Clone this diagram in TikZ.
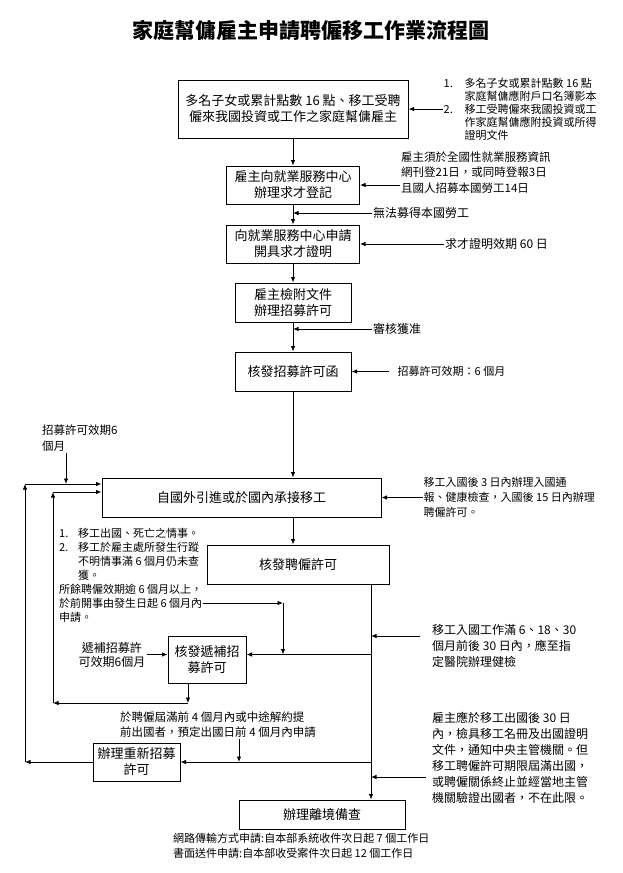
\documentclass[tikz,border=0pt]{standalone}
\usepackage{fontspec}
\setmainfont{Noto Sans CJK TC}
\usetikzlibrary{arrows.meta,positioning}

\newcommand{\listno}[2][21pt]{\makebox[#1][l]{#2}}

\begin{document}
\begin{tikzpicture}[
		x=1pt, y=1pt,
		node distance=27pt,
		block/.style={draw, line width=1pt, fill=white, align=center, inner sep=1pt, font=\fontsize{13}{16}\selectfont},
		note/.style={align=left, inner sep=1pt, font=\fontsize{11}{13}\selectfont},
		link/.style={line width=0.9pt, -{Latex[length=5.5pt, width=4.5pt]}},
	]
		\useasboundingbox (0,0) rectangle (622,-873);
		\node [font=\fontsize{21}{24}\selectfont\bfseries] (title) at (311,-30) {家庭幫傭雇主申請聘僱移工作業流程圖};

		\node [block, minimum width=230pt, minimum height=58pt] (owner) at (293,-109) {多名子女或累計點數 16 點、移工受聘\\僱來我國投資或工作之家庭幫傭雇主};
		\node [block, minimum width=133pt, minimum height=38pt, below=27pt of owner] (register) {雇主向就業服務中心\\辦理求才登記};
		\node [block, minimum width=133pt, minimum height=38pt, below=20pt of register] (proof) {向就業服務中心申請\\開具求才證明};
		\node [block, minimum width=116pt, minimum height=39pt, below=19pt of proof] (apply) {雇主檢附文件\\辦理招募許可};
		\node [block, minimum width=116pt, minimum height=39pt, below=29pt of apply] (letter) {核發招募許可函};
		\node [block, minimum width=279pt, minimum height=39pt, below=86pt of letter, xshift=-51.5pt] (bring) {自國外引進或於國內承接移工};
		\node [block, minimum width=182pt, minimum height=39pt, below=27pt of bring, xshift=56.5pt] (hire) {核發聘僱許可};
		\node [block, minimum width=78pt, minimum height=47pt] (refill) at (207,-659.5) {核發遞補招\\募許可};
		\node [block, minimum width=87pt, minimum height=38pt] (again) at (136.5,-762) {辦理重新招募\\許可};
		\node [block, minimum width=166pt, minimum height=29pt] (leave) at (322,-814.5) {辦理離境備查};

		% side notes
		\node [note, right=34pt of owner] (docs) {\listno{1.}多名子女或累計點數 16 點\\\listno{}家庭幫傭應附戶口名簿影本\\\listno{2.}移工受聘僱來我國投資或工\\\listno{}作家庭幫傭應附投資或所得\\\listno{}證明文件};
		\node [note, right=40pt of register, yshift=12.5pt, font=\fontsize{11.5}{15.5}\selectfont] (posting) {雇主須於全國性就業服務資訊\\網刊登21日，或同時登報3日\\且國人招募本國勞工14日};
		\node [note, anchor=west, font=\fontsize{12}{14}\selectfont] (nolocal) at (372,-213) {無法募得本國勞工};
		\node [note, right=84pt of proof, font=\fontsize{12}{14}\selectfont] (certterm) {求才證明效期 60 日};
		\node [note, anchor=west, font=\fontsize{12}{14}\selectfont] (approved) at (372,-329) {審核獲准};
		\node [note, right=45pt of letter] (permitterm) {招募許可效期：6 個月};
		\node [note, right=41pt of bring, font=\fontsize{11}{15}\selectfont] (arrival) {移工入國後 3 日內辦理入國通\\報、健康檢查，入國後 15 日內辦理\\聘僱許可。};
		\node [note, anchor=west, font=\fontsize{11.5}{16}\selectfont] (lapse) at (41,-438) {招募許可效期6\\個月};
		\node [note, anchor=west, font=\fontsize{11}{14}\selectfont] (dues) at (58,-575) {\listno[19pt]{1.}移工出國、死亡之情事。\\\listno[19pt]{2.}移工於雇主處所發生行蹤\\\listno[19pt]{}不明情事滿 6 個月仍未查\\\listno[19pt]{}獲。\\所餘聘僱效期逾 6 個月以上，\\於前開事由發生日起 6 個月內\\申請。};
		\node [note, left=21pt of refill, yshift=5pt, align=center, font=\fontsize{12}{14}\selectfont] (refillterm) {遞補招募許\\可效期6個月};
		\node [note, font=\fontsize{11.5}{15}\selectfont] (early) at (218,-725) {於聘僱屆滿前 4 個月內或中途解約提\\前出國者，預定出國日前 4 個月內申請};
		\node [note, anchor=west, font=\fontsize{12}{16}\selectfont] (checkup) at (431,-646) {移工入國工作滿 6、18、30\\個月前後 30 日內，應至指\\定醫院辦理健檢};
		\node [note, anchor=west, font=\fontsize{12}{16}\selectfont] (notify) at (431,-758) {雇主應於移工出國後 30 日\\內，檢具移工名冊及出國證明\\文件，通知中央主管機關。但\\移工聘僱許可期限屆滿出國，\\或聘僱關係終止並經當地主管\\機關驗證出國者，不在此限。};
		\node [note, anchor=west, font=\fontsize{11}{15}\selectfont] (timing) at (172,-845.5) {網路傳輸方式申請:自本部系統收件次日起 7 個工作日\\書面送件申請:自本部收受案件次日起 12 個工作日};

		\coordinate (outer) at (25,-484);
		\coordinate (inner) at (53,-492);
		\coordinate (tap) at (66,-484);
		\coordinate (drop) at (188,-703);
		\coordinate (rail) at (371,0);
		\coordinate (elbow) at (283,-603);
		\coordinate (tick) at (239,-762);
		\coordinate (checkup tail) at (420,-636);
		\coordinate (notify tail) at (426,-777);

		% main flow
		\draw[link] (owner) -- (register);
		\draw[link] (register) -- (proof);
		\draw[link] (proof) -- (apply);
		\draw[link] (apply) -- (letter);
		\draw[link] (letter.south) -- (letter.south |- bring.north);
		\draw[link] (letter.south |- bring.south) -- (letter.south |- hire.north);
		\draw[link] (hire.south -| rail) -- (leave.north -| rail);

		\draw[link] (docs.west) -- (owner.east);
		\draw[link] (register.east -| posting.west) -- (register.east);
		\draw[link] (nolocal.west) -- (nolocal.west -| register.south);
		\draw[link] (certterm.west) -- (proof.east);
		\draw[link] (approved.west) -- (approved.west -| apply.south);
		\draw[link] ([xshift=-8pt]permitterm.west) -- (letter.east);
		\draw[link] (arrival.west) -- (bring.east);

		% loops back to the import box
		\draw[link] (again.west) -- (again.west -| outer);
		\draw[link] (again.west -| outer) -- (outer);
		\draw[link] (outer) -- (outer -| bring.west);
		\draw[link] (lapse.south -| tap) -- (tap);
		\draw[link] (refill.south -| drop) -- (drop);
		\draw[link] (drop) -- (drop -| inner);
		\draw[link] (drop -| inner) -- (inner);
		\draw[link] (inner) -- (inner -| bring.west);

		% branches off the rail
		\draw[link] (refillterm.east -| rail) -- (refillterm.east -| refill.east);
		\draw[link] (refillterm.east) -- (refillterm.east -| refill.west);
		\draw[link] (elbow -| dues.east) -- (elbow);
		\draw[link] (elbow) -- (elbow |- refillterm.east);
		\draw[link] (again.east -| rail) -- (again.east);
		\draw[link] (early.south -| tick) -- (tick);
		\draw[link] (checkup tail) -- (checkup tail -| rail);
		\draw[link] (notify tail) -- (notify tail -| rail);
	\end{tikzpicture}
\end{document}
